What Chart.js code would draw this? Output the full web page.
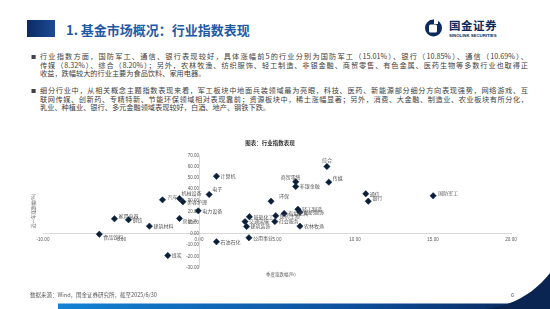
<!DOCTYPE html>
<html>
<head>
<meta charset="utf-8">
<script src="https://cdn.jsdelivr.net/npm/chart.js@4/dist/chart.umd.min.js"></script>
<style>
  html, body { margin:0; padding:0; background:#fff; }
  body { width:550px; height:309px; position:relative; overflow:hidden; font-family:"Noto Sans CJK SC","Noto Sans",sans-serif; }
  #c { position:absolute; left:0; top:0; }
  .abs { position:absolute; white-space:nowrap; }
  .sq { left:27px; top:20px; width:28px; height:17px; background:linear-gradient(90deg,#0b2a63,#1d4b96); }
  .title { left:66px; top:21px; font-size:13px; font-weight:bold; color:#1f5aa6; line-height:17px; }
  .logo-t { left:449px; top:19px; font-size:11.5px; font-weight:bold; color:#0d2a5c; line-height:13px; letter-spacing:0.5px; }
  .logo-s { left:449px; top:32.5px; font-size:4.3px; font-weight:bold; color:#0d2a5c; font-family:"Liberation Sans",sans-serif; line-height:5px; }
  .para { left:40px; width:488px; font-size:7.2px; color:#404040; line-height:8.6px; white-space:normal; }
  .para div { white-space:nowrap; }
  .para .j { text-align:justify; text-align-last:justify; }
  .bul { left:31px; font-size:5px; color:#404040; }
  .ctitle { left:0; width:540px; text-align:center; top:139px; font-size:5.5px; font-weight:bold; color:#333; }
  .xt { left:266px; top:271px; font-size:4.5px; color:#595959; }
  .yt { left:33px; top:211px; font-size:4.5px; color:#595959; transform:translate(-50%,-50%) rotate(-90deg); transform-origin:center; }
  .src { left:30px; top:291px; font-size:5.5px; color:#595959; }
  .pg { left:511px; top:291px; font-size:5.5px; color:#595959; }
</style>
</head>
<body>
<svg class="abs" style="left:0;top:0" width="550" height="309">
  <defs>
    <linearGradient id="bar" x1="0" x2="1" y1="0" y2="0">
      <stop offset="0" stop-color="#1383d4"/>
      <stop offset="0.6" stop-color="#0d4f9c"/>
      <stop offset="1" stop-color="#0a2454"/>
    </linearGradient>
  </defs>
  <rect x="58" y="303.5" width="492" height="6" fill="url(#bar)"/>
  <path d="M486,309 C515,305 535,292 550,273 L550,309 Z" fill="#0b2552"/>
  <circle cx="433.5" cy="28" r="8.5" fill="#0d2a5c"/>
  <rect x="429" y="24.5" width="8" height="8" rx="1.5" fill="#fff"/>
  <rect x="434" y="19" width="4" height="5" fill="#fff"/>
</svg>
<div class="abs sq"></div>
<div class="abs title">1. 基金市场概况：行业指数表现</div>
<div class="abs logo-t">国金证券</div>
<div class="abs logo-s">SINOLINK SECURITIES</div>

<div class="abs bul" style="top:52px">■</div>
<div class="abs para" style="top:52px">
  <div class="j">行业指数方面，国防军工、通信、银行表现较好，具体涨幅前5的行业分别为国防军工（15.01%）、银行（10.85%）、通信（10.69%）、</div>
  <div class="j">传媒（8.32%）、综合（8.20%）；另外，农林牧渔、纺织服饰、轻工制造、非银金融、商贸零售、有色金属、医药生物等多数行业也取得正</div>
  <div>收益，跌幅较大的行业主要为食品饮料、家用电器。</div>
</div>
<div class="abs bul" style="top:86px">■</div>
<div class="abs para" style="top:86px">
  <div class="j">细分行业中，从相关概念主题指数表现来看，军工板块中地面兵装领域最为亮眼，科技、医药、新能源部分细分方向表现强势，网络游戏、互</div>
  <div class="j">联网传媒、创新药、专精特新、节能环保领域相对表现靠前；资源板块中，稀土涨幅显著；另外，消费、大金融、制造业、农业板块有所分化，</div>
  <div>乳业、种植业、银行、多元金融领域表现较好，白酒、地产、钢铁下跌。</div>
</div>

<canvas id="c" width="550" height="309"></canvas>

<div class="abs ctitle">图表：行业指数表现</div>
<div class="abs xt">季度涨跌幅(%)</div>
<div class="abs yt">近一年涨跌幅(%)</div>
<div class="abs src">数据来源：Wind，国金证券研究所，截至2025/6/30</div>
<div class="abs pg">6</div>

<script>
const industries = ["食品饮料","家用电器","钢铁","建筑材料","汽车","机械设备","美容护理","房地产","煤炭","电力设备","电子","计算机","石油石化","公用事业","基础化工","交通运输","建筑装饰","环保","医药生物","社会服务","有色金属","轻工制造","纺织服饰","农林牧渔","商贸零售","非银金融","综合","传媒","通信","银行","国防军工"];
const periodReturn = [-6.39,-5.42,-4.52,-3.18,-2.34,-1.25,-1.03,-1.25,-2.00,-0.05,0.65,1.12,1.12,3.20,3.23,2.95,3.05,4.62,4.92,4.86,5.46,6.34,6.47,6.47,6.20,6.20,8.20,8.32,10.69,10.85,15.01];
const yearReturn = [-0.3,13.5,12.6,6.9,30.4,31.6,28.7,13.8,-19.3,20.6,35.2,51.5,-7.0,-3.5,15.3,11.0,6.6,29.2,16.2,11.0,18.2,22.0,19.4,6.9,46.5,42.3,60.2,46.2,35.8,29.2,34.0];
const xTickMin = -10, xTickMax = 20, xStep = 5;
const yTickMin = -30, yTickMax = 70, yStep = 10;

const labelOffsets = {
  "综合": [0,-6,"center"], "商贸零售": [5,-5,"right"], "环保": [8,-5,"left"],
  "传媒": [4,-4,"left"], "银行": [4,-3,"left"], "国防军工": [5,-3,"left"],
  "电子": [3,-5,"left"], "汽车": [5,-3,"left"], "机械设备": [2,-5,"left"],
  "食品饮料": [4,3,"left"], "家用电器": [4,-3,"left"], "房地产": [3,3,"left"]
};

const labelPlugin = {
  id: 'ptLabels',
  afterDatasetsDraw(chart) {
    const ctx = chart.ctx;
    const meta = chart.getDatasetMeta(0);
    ctx.save();
    ctx.font = '5px "Noto Sans CJK SC"';
    ctx.fillStyle = '#595959';
    ctx.textBaseline = 'middle';
    meta.data.forEach((el, i) => {
      const name = industries[i];
      const o = labelOffsets[name] || [4, 0, 'left'];
      ctx.textAlign = o[2];
      ctx.fillText(name, el.x + o[0], el.y + o[1]);
    });
    ctx.restore();
  }
};

new Chart(document.getElementById('c'), {
  type: 'scatter',
  data: {
    datasets: [{
      data: industries.map((n, i) => ({x: periodReturn[i], y: yearReturn[i]})),
      pointStyle: 'rectRot',
      pointRadius: 3.2,
      backgroundColor: '#0b1f3a',
      borderColor: '#0b1f3a',
      borderWidth: 0.5
    }]
  },
  options: {
    responsive: false,
    animation: false,
    devicePixelRatio: 1,
    layout: { padding: { left: 43, right: 39, top: 155.5, bottom: 41.5 } },
    plugins: { legend: { display: false }, tooltip: { enabled: false } },
    scales: {
      x: {
        type: 'linear', min: xTickMin, max: xTickMax,
        position: { y: 0 },
        grid: { display: false, drawTicks: false },
        border: { display: true, color: '#d9d9d9', width: 1 },
        ticks: { stepSize: xStep, font: { size: 4.5, family: 'Liberation Sans' }, color: '#595959', padding: 3, maxRotation: 0,
                 callback: v => v.toFixed(2) }
      },
      y: {
        type: 'linear', min: yTickMin, max: yTickMax,
        position: { x: 0 },
        grid: { display: false, drawTicks: false },
        border: { display: true, color: '#d9d9d9', width: 1 },
        ticks: { stepSize: yStep, font: { size: 4.5, family: 'Liberation Sans' }, color: '#595959', padding: 4,
                 callback: v => v.toFixed(2) }
      }
    }
  },
  plugins: [labelPlugin]
});
</script>
</body>
</html>
